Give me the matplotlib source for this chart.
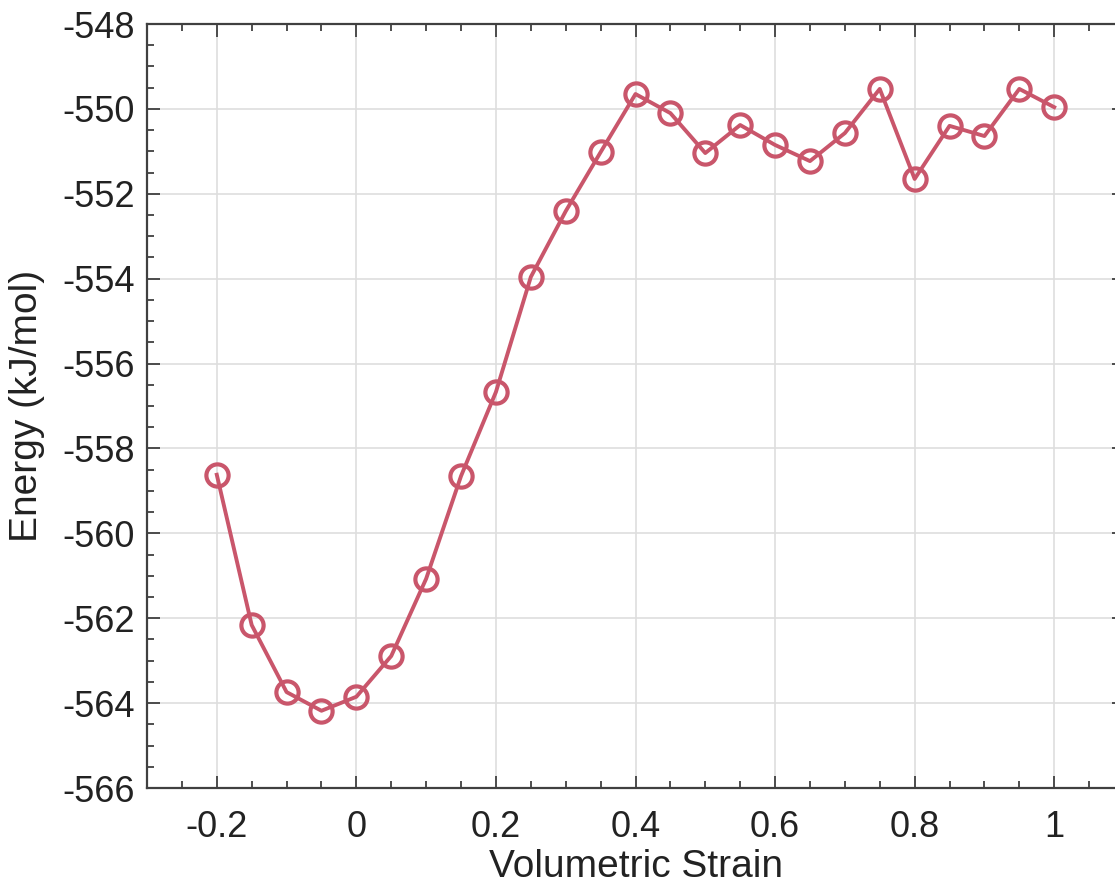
import matplotlib.pyplot as plt
from matplotlib.ticker import MultipleLocator

plt.rcParams['font.family'] = ['Liberation Sans', 'DejaVu Sans']

strain = [-0.2, -0.15, -0.1, -0.05, 0.0, 0.05, 0.1, 0.15, 0.2, 0.25, 0.3, 0.35, 0.4,
          0.45, 0.5, 0.55, 0.6, 0.65, 0.7, 0.75, 0.8, 0.85, 0.9, 0.95, 1.0]
energy = [-558.62, -562.16, -563.74, -564.18, -563.85, -562.89, -561.07, -558.65,
          -556.67, -553.96, -552.41, -551.02, -549.65, -550.10, -551.04, -550.38,
          -550.85, -551.23, -550.57, -549.53, -551.65, -550.40, -550.64, -549.53, -549.96]

fig = plt.figure(figsize=(11.15, 8.92), dpi=100)
ax = fig.add_axes([147/1115, 104/892, 977/1115, 764/892])

ax.plot(strain, energy, color='#c9566b', lw=2.8, marker='o', ms=16,
        mfc='none', mec='#c9566b', mew=3.0, clip_on=False, zorder=3)

ax.set_xlim(-0.3, 1.1)
ax.set_ylim(-566, -548)
ax.xaxis.set_minor_locator(MultipleLocator(0.05))
ax.yaxis.set_minor_locator(MultipleLocator(0.5))
ax.set_xticks([-0.2, 0, 0.2, 0.4, 0.6, 0.8, 1])
ax.set_xticklabels(['-0.2', '0', '0.2', '0.4', '0.6', '0.8', '1'])
ax.set_yticks(range(-566, -547, 2))
ax.set_yticklabels([str(v) for v in range(-566, -547, 2)])

ax.grid(True, which='major', color='#dedede', lw=1.2)
ax.set_axisbelow(True)
ax.tick_params(which='both', direction='in', top=True, right=True, colors='#404040',
               labelcolor='#222222', labelsize=26, width=1.3)
ax.tick_params(which='major', length=9, pad=9)
ax.tick_params(axis='x', which='major', pad=16)
ax.tick_params(which='minor', length=5)
for s in ax.spines.values():
    s.set_color('#404040')
    s.set_linewidth(1.6)

ax.set_xlabel('Volumetric Strain', fontsize=28, color='#222222', labelpad=3)
ax.set_ylabel('Energy (kJ/mol)', fontsize=28, color='#222222', labelpad=12)

fig.savefig('out.png', dpi=100)
